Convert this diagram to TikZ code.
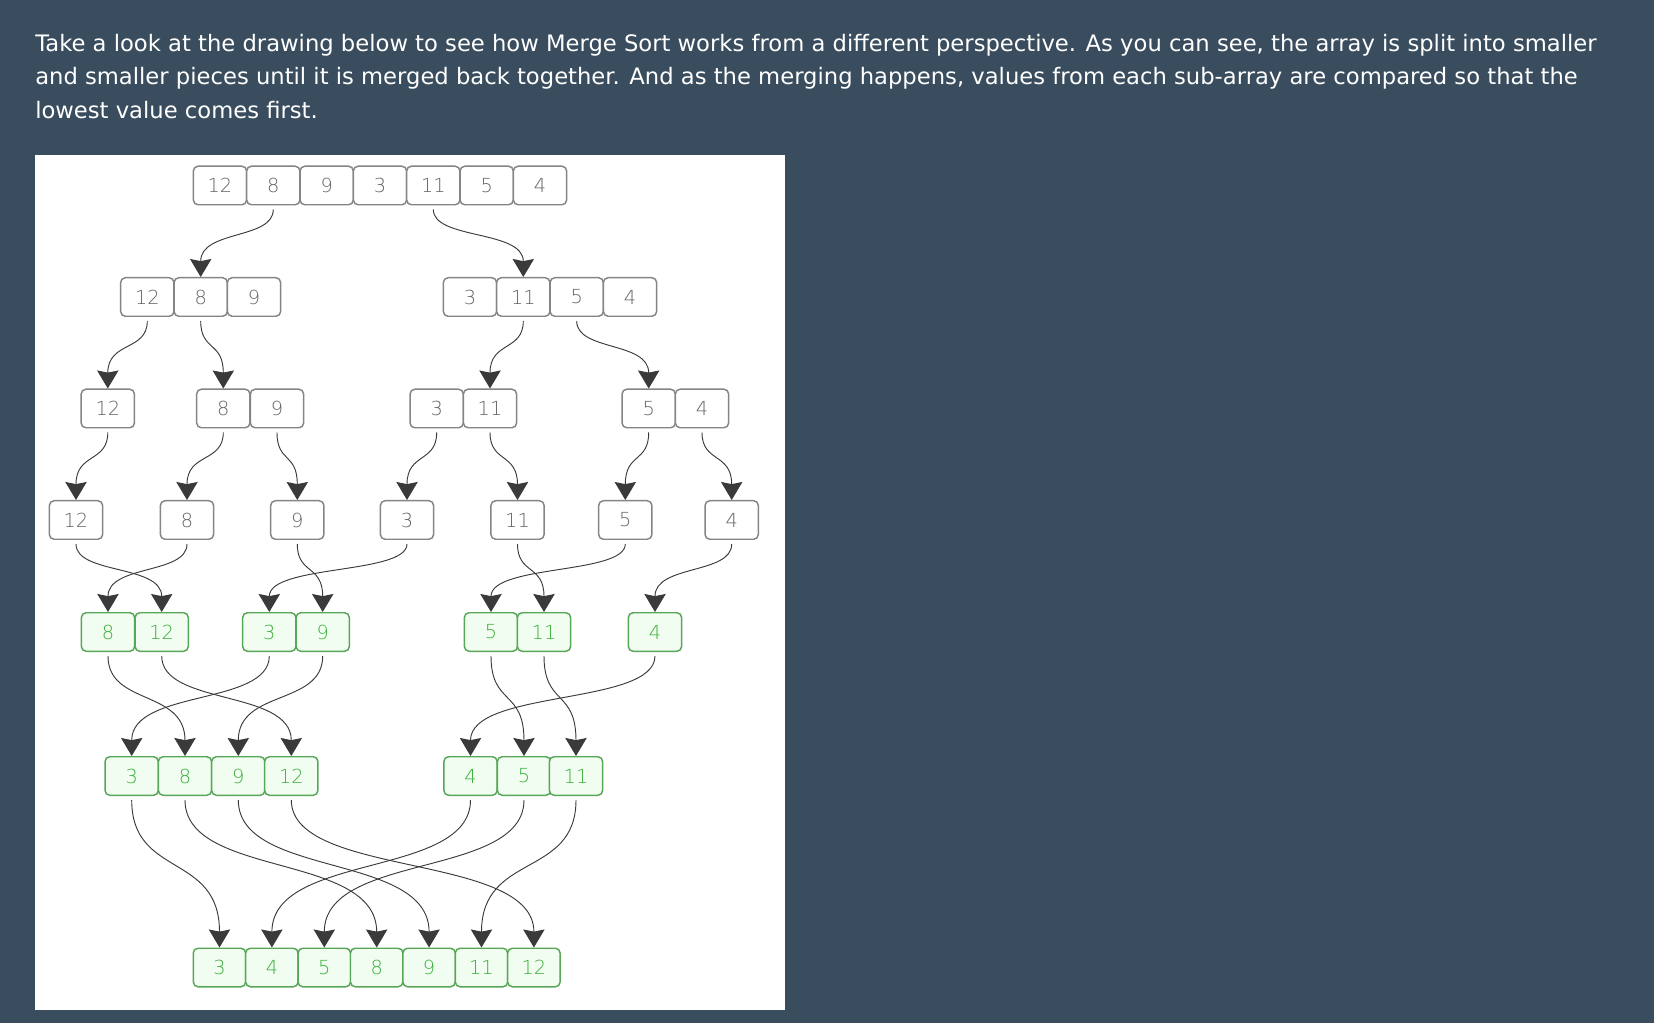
\documentclass[tikz,border=0pt]{standalone}
\usepackage{fontspec}
\setmainfont{DejaVu Sans}
\newfontfamily\digitfont{DejaVu Sans ExtraLight}
\usetikzlibrary{arrows.meta,calc}
\definecolor{bg}{HTML}{3A4D5E}
\definecolor{boxline}{HTML}{858585}
\definecolor{digit}{HTML}{666666}
\definecolor{gline}{HTML}{58A658}
\definecolor{gfill}{HTML}{F2FDF2}
\definecolor{gtext}{HTML}{3DB03D}
\definecolor{connc}{HTML}{3A3A3A}
\newcommand\mslink[2]{\draw[lnk] let \p1=($(#1.south)+(0,4)$), \p2=(#2.north), \p3=($(#2.north)+(0,-17)$) in (\p1) .. controls (\x1,{\y1-0.6*(\y1-\y3)}) and (\x2,{\y3+0.6*(\y1-\y3)}) .. (\p2);}
\begin{document}
\begin{tikzpicture}[x=0.75pt,y=-0.75pt,
  hdr/.style={anchor=base west, inner sep=0pt, text=white, font=\fontsize{17}{20}\selectfont},
  cell/.style={draw=boxline, line width=1.1pt, rounded corners=3.5pt, minimum width=39.9pt, minimum height=28.9pt, inner sep=0pt, text=digit, fill=white, font=\digitfont\fontsize{14.5}{14.5}\selectfont},
  gcell/.style={cell, draw=gline, fill=gfill, text=gtext},
  lnk/.style={draw=connc, line width=0.7pt, -{Stealth[length=13.5pt,width=16pt,inset=1.6pt]}}]
\fill[bg] (0,0) rectangle (1654,1023);
\useasboundingbox (0,0) rectangle (1654,1023);
\fill[white] (35,155) rectangle (785,1010);
\node[hdr] (t1) at (35,52) {Take a look at the drawing below to see how Merge Sort works from a different perspective. As you can see, the array is split into smaller};
\node[hdr] (t2) at (35,85) {and smaller pieces until it is merged back together. And as the merging happens, values from each sub-array are compared so that the};
\node[hdr] (t3) at (35,119) {lowest value comes first.};
% row 1
\foreach \v/\x [count=\i] in {12/220,8/273.3,9/326.7,3/380,11/433.3,5/486.7,4/540}
  \node[cell] (a\i) at (\x,185.5) {\v};
% row 2
\foreach \v/\x [count=\i] in {12/147.3,8/200.7,9/254,3/470,11/523.3,5/576.7,4/630}
  \node[cell] (b\i) at (\x,297) {\v};
% row 3
\foreach \v/\x [count=\i] in {12/107.8,8/223.3,9/277,3/436.7,11/490,5/648.7,4/702}
  \node[cell] (c\i) at (\x,408.5) {\v};
% row 4
\foreach \v/\x [count=\i] in {12/76,8/187,9/297.3,3/407,11/517.5,5/625.3,4/731.7}
  \node[cell] (d\i) at (\x,520) {\v};
% row 5
\foreach \v/\x [count=\i] in {8/108,12/161.7,3/269.3,9/322.7,5/491,11/544,4/655}
  \node[gcell] (e\i) at (\x,632) {\v};
% row 6
\foreach \v/\x [count=\i] in {3/131.7,8/185,9/238.3,12/291.3,4/470.5,5/524,11/576}
  \node[gcell] (f\i) at (\x,776) {\v};
% row 7
\foreach \v/\x [count=\i] in {3/219.5,4/271.9,5/324.3,8/376.7,9/429.1,11/481.5,12/533.9}
  \node[gcell, minimum width=39.3pt] (g\i) at (\x,967.5) {\v};
% connectors
\mslink{a2}{b2}
\mslink{a5}{b5}
\mslink{b1}{c1}
\mslink{b2}{c2}
\mslink{b5}{c5}
\mslink{b6}{c6}
\foreach \i in {1,...,7} {\mslink{c\i}{d\i}}
\mslink{d1}{e2}
\mslink{d2}{e1}
\mslink{d3}{e4}
\mslink{d4}{e3}
\mslink{d5}{e6}
\mslink{d6}{e5}
\mslink{d7}{e7}
\mslink{e1}{f2}
\mslink{e2}{f4}
\mslink{e3}{f1}
\mslink{e4}{f3}
\mslink{e5}{f6}
\mslink{e6}{f7}
\mslink{e7}{f5}
\mslink{f1}{g1}
\mslink{f2}{g4}
\mslink{f3}{g5}
\mslink{f4}{g7}
\mslink{f5}{g2}
\mslink{f6}{g3}
\mslink{f7}{g6}
\end{tikzpicture}
\end{document}
